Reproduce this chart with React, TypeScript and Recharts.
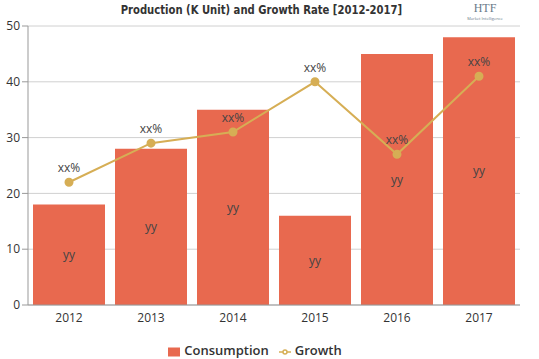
import React from "react";
import {
  ComposedChart,
  Bar,
  Line,
  XAxis,
  YAxis,
  CartesianGrid,
  Legend,
  LabelList,
} from "recharts";

const years = ["2012", "2013", "2014", "2015", "2016", "2017"];
const consumption = [18, 28, 35, 16, 45, 48];
const growth = [22, 29, 31, 40, 27, 41];
const barLabels = ["yy", "yy", "yy", "yy", "yy", "yy"];
const lineLabels = ["xx%", "xx%", "xx%", "xx%", "xx%", "xx%"];
const yTicks = [0, 10, 20, 30, 40, 50];

const BAR_COLOR = "#E8694F";
const LINE_COLOR = "#D6AE55";
const FONT = "'Open Sans', 'DejaVu Sans', sans-serif";

const data = years.map((year, i) => ({
  year,
  Consumption: consumption[i],
  Growth: growth[i],
  barLabel: barLabels[i],
  lineLabel: lineLabels[i],
}));

export default function App() {
  return (
    <div
      style={{
        position: "absolute",
        left: 0,
        top: 0,
        width: 539,
        height: 359,
        background: "#fff",
        fontFamily: FONT,
      }}
    >
      <div
        style={{
          position: "absolute",
          top: 2,
          left: 0,
          width: 523,
          textAlign: "center",
          fontFamily: "'DejaVu Sans Condensed', sans-serif",
          fontWeight: 700,
          fontSize: 13,
          color: "#333",
          transform: "scaleX(0.86)",
          transformOrigin: "261px 0",
        }}
      >
        Production (K Unit) and Growth Rate [2012-2017]
      </div>
      <div
        style={{
          position: "absolute",
          top: 2,
          left: 460,
          width: 50,
          height: 12,
          textAlign: "center",
          color: "#6a7a8a",
          fontFamily: "'Liberation Serif', serif",
          fontSize: 12,
          lineHeight: "12px",
        }}
      >
        HTF
      </div>
      <div
        style={{
          position: "absolute",
          top: 17,
          left: 460,
          width: 50,
          textAlign: "center",
          color: "#6a7a8a",
          fontSize: 4,
          lineHeight: "4px",
        }}
      >
        Market Intelligence
      </div>
      <ComposedChart
        width={539}
        height={359}
        data={data}
        margin={{ top: 26, right: 19, left: 0, bottom: 0 }}
        barCategoryGap={5}
      >
        <CartesianGrid vertical={false} stroke="#d0d0d0" />
        <XAxis
          dataKey="year"
          tickLine={false}
          axisLine={{ stroke: "#999" }}
          tick={{ fill: "#333", fontSize: 12, fontFamily: FONT }}
          height={36}
        />
        <YAxis
          width={28}
          domain={[0, 50]}
          ticks={yTicks}
          tickSize={6}
          tickLine={{ stroke: "#999" }}
          axisLine={{ stroke: "#999" }}
          tick={{ fill: "#333", fontSize: 12, fontFamily: FONT }}
        />
        <Legend
          verticalAlign="bottom"
          iconSize={12}
          wrapperStyle={{ fontSize: 13, fontWeight: 600, fontFamily: FONT, color: "#333" }}
          payload={[
            { value: "Consumption", type: "square", color: BAR_COLOR },
            { value: "Growth", type: "line", color: LINE_COLOR },
          ]}
          formatter={(v) => <span style={{ color: "#333" }}>{v}</span>}
        />
        <Bar dataKey="Consumption" fill={BAR_COLOR} isAnimationActive={false}>
          <LabelList
            dataKey="barLabel"
            position="center"
            fill="#444"
            fontSize={12}
            fontFamily={FONT}
          />
        </Bar>
        <Line
          dataKey="Growth"
          stroke={LINE_COLOR}
          strokeWidth={2}
          type="linear"
          dot={{ r: 3.5, fill: LINE_COLOR, stroke: LINE_COLOR }}
          isAnimationActive={false}
        >
          <LabelList
            dataKey="lineLabel"
            position="top"
            offset={10}
            fill="#444"
            fontSize={12}
            fontFamily={FONT}
          />
        </Line>
      </ComposedChart>
    </div>
  );
}
